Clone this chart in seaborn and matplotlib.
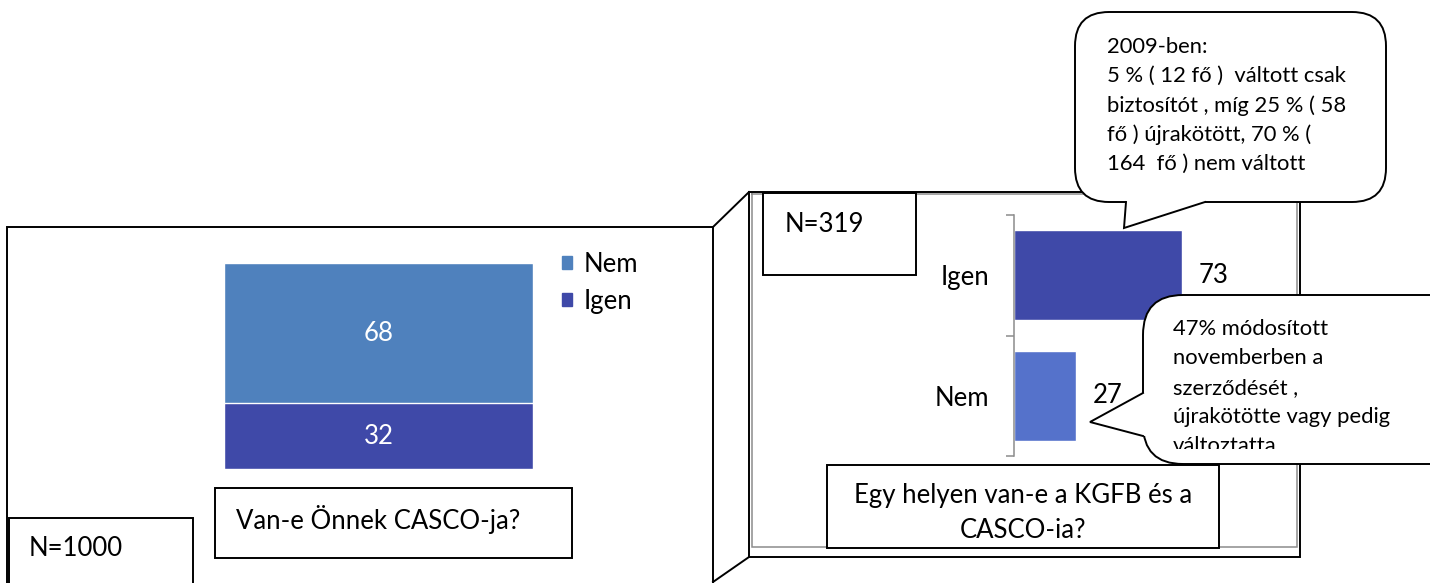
import matplotlib
matplotlib.use("Agg")
import matplotlib.pyplot as plt
import seaborn as sns
from matplotlib.patches import Rectangle, FancyBboxPatch, Polygon, Patch
from matplotlib.ticker import FixedLocator

# ---- data -------------------------------------------------------------
casco_answers = ["Nem", "Igen"]
casco_shares = [68, 32]
casco_question = "Van-e Önnek CASCO-ja?"
casco_n = "N=1000"

same_place_answers = ["Igen", "Nem"]
same_place_shares = [73, 27]
same_place_question = ["Egy helyen van-e a KGFB és a", "CASCO-ia?"]
same_place_n = "N=319"

note_2009 = [
    "2009-ben:",
    "5 % ( 12 fő )  váltott csak",
    "biztosítót , míg 25 % ( 58",
    "fő ) újrakötött, 70 % (",
    "164  fő ) nem váltott",
]
note_november = [
    "47% módosított",
    "novemberben a",
    "szerződését ,",
    "újrakötötte vagy pedig",
    "változtatta",
]

# ---- style ------------------------------------------------------------
COL_IGEN = "#3F49A8"
COL_NEM_LEFT = "#4F81BD"
COL_NEM_RIGHT = "#5572CB"
GRAY = "#8C8C8C"
FS_MAIN = 18.5
FS_NOTE = 15.8

sns.set_theme(style="white")
plt.rcParams["font.family"] = ["Lato", "DejaVu Sans"]
plt.rcParams["text.color"] = "black"
plt.rcParams["axes.labelcolor"] = "black"
plt.rcParams["ytick.color"] = "black"

W, H = 1430, 583
fig = plt.figure(figsize=(W / 100, H / 100), dpi=100)


def px_axes(x0, y0, x1, y1):
    """Axes placed by pixel box (y measured from the top)."""
    return fig.add_axes([x0 / W, 1 - y1 / H, (x1 - x0) / W, (y1 - y0) / H])


# ---- left chart: stacked column ---------------------------------------
axL = px_axes(224, 263, 533, 469)
share = dict(zip(casco_answers, casco_shares))
total = sum(casco_shares)
col = ["CASCO"]
sns.barplot(x=col, y=[total], color=COL_NEM_LEFT, saturation=1, width=0.8, ax=axL)
sns.barplot(x=col, y=[share["Igen"]], color=COL_IGEN, saturation=1, width=0.8,
            edgecolor="white", linewidth=1, ax=axL)
axL.set_xlim(-0.4, 0.4)
axL.set_ylim(0, total)
axL.set_axis_off()
axL.text(0, share["Igen"] + share["Nem"] / 2, str(share["Nem"]), color="white",
         ha="center", va="center", fontsize=FS_MAIN)
axL.text(0, share["Igen"] / 2, str(share["Igen"]), color="white",
         ha="center", va="center", fontsize=FS_MAIN)

# ---- right chart: horizontal bars -------------------------------------
axR = px_axes(1014, 215, 1244, 456)
sns.barplot(x=same_place_shares, y=same_place_answers, hue=same_place_answers,
            palette=[COL_IGEN, COL_NEM_RIGHT], saturation=1, width=0.75,
            orient="h", legend=False, ax=axR)
axR.set_xlim(0, 100)
axR.set_ylim(1.5, -0.5)
axR.patch.set_alpha(0)
for side in ["top", "right", "bottom"]:
    axR.spines[side].set_visible(False)
axR.spines["left"].set_color(GRAY)
axR.spines["left"].set_linewidth(1.1)
axR.xaxis.set_visible(False)
axR.set_ylabel("")
axR.yaxis.set_minor_locator(FixedLocator([-0.5, 0.5, 1.5]))
axR.tick_params(axis="y", which="minor", left=True, length=6, width=1.1,
                color=GRAY, direction="out")
axR.tick_params(axis="y", which="major", left=False, length=0, pad=18,
                labelsize=FS_MAIN, labelcolor="black")
for i, v in enumerate(same_place_shares):
    axR.annotate(str(v), (v, i), xytext=(12, 0), textcoords="offset points",
                 ha="left", va="center", fontsize=FS_MAIN, color="black")

# ---- overlay: frames, captions, call-outs -----------------------------
ov = fig.add_axes([0, 0, 1, 1])
ov.set_xlim(0, W)
ov.set_ylim(H, 0)
ov.set_axis_off()
ov.set_zorder(10)

lw = 1.4


def polyline(pts, color="black", width=lw, z=1):
    xs, ys = zip(*pts)
    ov.plot(xs, ys, color=color, lw=width, zorder=z, solid_joinstyle="miter",
            solid_capstyle="projecting")


# left panel box (open at the bottom) and the perspective edges
polyline([(7, 590), (7, 227), (713, 227), (713, 590)])
polyline([(713, 227), (749, 192)])
polyline([(713, 582), (749, 557)])
# right panel back wall
polyline([(749, 192), (1300, 192), (1300, 557), (749, 557), (749, 192)])
polyline([(752, 194), (1297, 194), (1297, 547), (752, 547), (752, 194)],
         color=GRAY, width=1.1)


def text_box(x0, y0, x1, y1):
    ov.add_patch(Rectangle((x0, y0), x1 - x0, y1 - y0, facecolor="white",
                           edgecolor="black", lw=lw, zorder=2))


text_box(9, 518, 193, 600)
ov.text(29, 549, casco_n, fontsize=FS_MAIN, va="center", ha="left", zorder=3)
text_box(215, 488, 572, 558)
ov.text(236, 520, casco_question, fontsize=FS_MAIN, va="center", ha="left", zorder=3)

text_box(763, 193, 916, 275)
ov.text(785, 224, same_place_n, fontsize=FS_MAIN, va="center", ha="left", zorder=3)
text_box(827, 465, 1219, 548)
for k, line in enumerate(same_place_question):
    ov.text(1023, 496 + 35 * k, line, fontsize=FS_MAIN, va="center",
            ha="center", zorder=3)

# legend of the stacked column
ov.legend(handles=[Patch(color=COL_NEM_LEFT, label="Nem"),
                   Patch(color=COL_IGEN, label="Igen")],
          loc="upper left", bbox_to_anchor=(562, 252),
          bbox_transform=ov.transData, frameon=False, fontsize=FS_MAIN,
          handlelength=0.4, handleheight=0.4, handletextpad=0.45,
          labelspacing=0.47, borderpad=0, borderaxespad=0)


def callout(x0, y0, x1, y1, radius, tail, inward):
    ov.add_patch(FancyBboxPatch((x0, y0), x1 - x0, y1 - y0,
                                boxstyle=f"round,pad=0,rounding_size={radius}",
                                facecolor="white", edgecolor="black", lw=lw,
                                zorder=4))
    b1, tip, b2 = tail
    ov.add_patch(Polygon([inward[0], b1, tip, b2, inward[1]], closed=True,
                         facecolor="white", edgecolor="none", zorder=5))
    polyline([b1, tip, b2], z=6)


callout(1075, 12, 1386, 202, 34,
        [(1126, 202), (1124, 228), (1205, 202)],
        [(1126, 196), (1205, 196)])
for k, line in enumerate(note_2009):
    ov.text(1107, 53 + 29.3 * k, line, fontsize=FS_NOTE, va="baseline",
            ha="left", zorder=7)

callout(1143, 295, 1480, 464, 40,
        [(1143, 393), (1090, 422), (1143, 436)],
        [(1149, 393), (1149, 436)])
clip = Rectangle((1145, 298), 300, 151, transform=ov.transData)
for k, line in enumerate(note_november):
    t = ov.text(1173, 335 + 29.3 * k, line, fontsize=FS_NOTE, va="baseline",
                ha="left", zorder=7, clip_on=True)
    t.set_clip_path(clip)

fig.savefig("out.png", dpi=100)
